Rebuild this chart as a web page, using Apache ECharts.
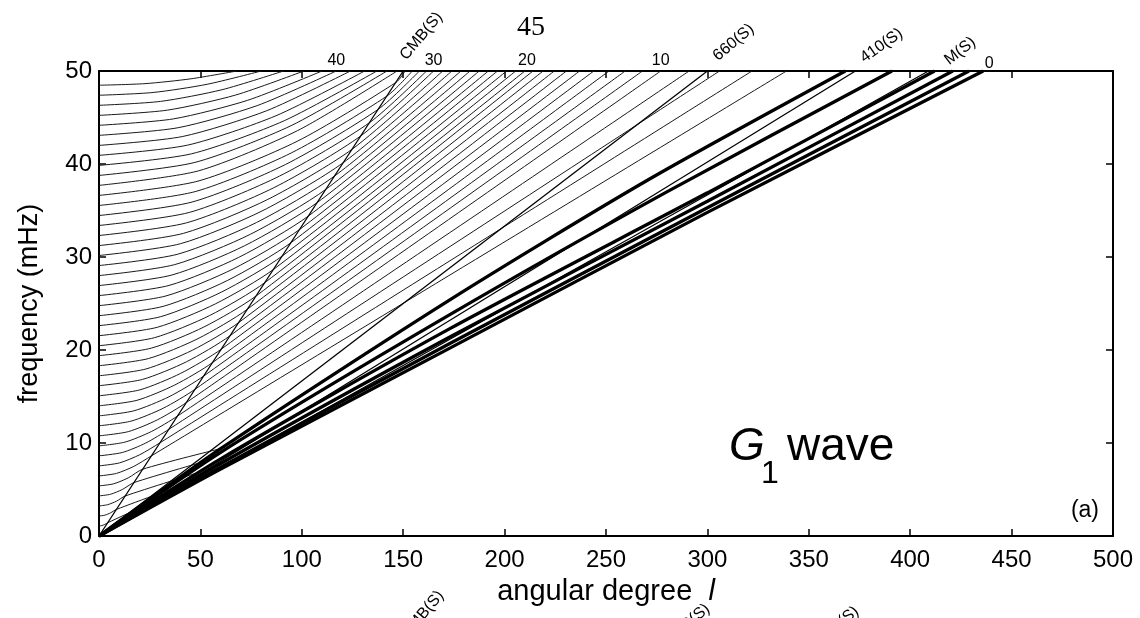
<!DOCTYPE html>
<html><head><meta charset="utf-8">
<script src="https://cdn.jsdelivr.net/npm/echarts@6/dist/echarts.min.js"></script>
<style>html,body{margin:0;padding:0;background:#fff}#c{width:1140px;height:618px}</style>
</head><body><div id="c"></div>
<script>
// Thin overtone branches (n = 1 ... 45): [angular degree l, frequency mHz]
const thinBranches = [
 [[0,1.08],[1.4,1.12],[2.9,1.25],[4.3,1.43],[40,5.0]],
 [[0,2.15],[2.9,2.24],[5.7,2.49],[8.6,2.86],[45,5.8]],
 [[0,3.23],[4.3,3.37],[8.6,3.74],[12.9,4.30],[50,6.9]],
 [[0,4.31],[5.7,4.49],[11.5,5.00],[17.2,5.74],[55,8.2]],
 [[0,5.39],[7.2,5.61],[14.4,6.25],[21.5,7.18],[60,9.4]],
 [[0,6.46],[8.6,6.73],[17.2,7.49],[25.8,8.61],[339,50]],
 [[0,7.54],[10.1,7.86],[20.1,8.74],[30.2,10.04],[322,50]],
 [[0,8.62],[11.5,8.98],[23.0,9.99],[34.5,11.48],[306,50]],
 [[0,9.69],[12.9,10.10],[25.8,11.23],[38.8,12.91],[291,50]],
 [[0,10.77],[14.4,11.22],[28.7,12.48],[43.1,14.35],[277,50]],
 [[0,11.85],[15.8,12.35],[31.6,13.73],[47.4,15.78],[268,50]],
 [[0,12.92],[17.2,13.46],[34.5,14.97],[51.7,17.21],[259.5,50]],
 [[0,14.00],[18.7,14.59],[37.3,16.23],[56.0,18.65],[251.5,50]],
 [[0,15.08],[20.1,15.71],[40.2,17.48],[60.3,20.09],[244,50]],
 [[0,16.16],[21.5,16.84],[43.1,18.73],[64.6,21.53],[237,50]],
 [[0,17.23],[23.0,17.95],[46.0,19.97],[68.9,22.95],[230.5,50]],
 [[0,18.31],[24.4,19.08],[48.8,21.22],[73.2,24.39],[224.5,50]],
 [[0,19.39],[25.8,20.20],[51.7,22.47],[77.6,25.83],[219,50]],
 [[0,20.46],[27.3,21.32],[54.6,23.71],[81.8,27.25],[214,50]],
 [[0,21.54],[28.7,22.44],[57.4,24.96],[86.2,28.69],[210,50]],
 [[0,22.62],[30.2,23.57],[60.3,26.22],[90.5,30.13],[205.5,50]],
 [[0,23.69],[31.6,24.69],[63.2,27.46],[94.8,31.56],[201,50]],
 [[0,24.77],[33.0,25.81],[66.1,28.71],[99.1,32.99],[196.5,50]],
 [[0,25.85],[34.5,26.94],[68.9,29.96],[103.4,34.43],[192,50]],
 [[0,26.93],[35.9,28.06],[71.8,31.21],[107.7,35.87],[187.5,50]],
 [[0,28.00],[37.3,29.18],[74.7,32.45],[112.0,37.30],[183,50]],
 [[0,29.08],[38.8,30.30],[77.6,33.70],[116.3,38.73],[178.5,50]],
 [[0,30.16],[40.2,31.43],[80.4,34.95],[120.6,40.17],[174,50]],
 [[0,31.23],[41.6,32.54],[83.3,36.20],[124.9,41.60],[169.5,50]],
 [[0,32.31],[43.1,33.67],[86.2,37.45],[129.2,43.04],[165,50]],
 [[0,33.39],[44.5,34.79],[89.0,38.70],[133.6,44.48],[161.5,50]],
 [[0,34.46],[45.9,35.91],[91.9,39.94],[137.8,45.90],[158,50]],
 [[0,35.54],[47.4,37.03],[94.8,41.19],[142.2,47.34],[154.5,50]],
 [[0,36.62],[48.8,38.16],[97.7,42.44],[146.5,48.78],[151,50]],
 [[0,37.70],[49,39.26],[98,43.60],[147,50]],
 [[0,38.77],[47.3,40.17],[94.7,44.12],[142,50]],
 [[0,39.85],[45.7,41.10],[91.3,44.65],[137,50]],
 [[0,40.93],[43.7,42.03],[87.3,45.19],[131,50]],
 [[0,42.00],[41.3,42.96],[82.7,45.73],[124,50]],
 [[0,43.08],[39,43.90],[78,46.28],[117,50]],
 [[0,44.16],[36.7,44.85],[73.3,46.85],[110,50]],
 [[0,45.23],[33.7,45.79],[67.3,47.41],[101,50]],
 [[0,46.31],[30.3,46.73],[60.7,47.99],[91,50]],
 [[0,47.39],[26.7,47.69],[53.3,48.57],[80,50]],
 [[0,48.47],[22.7,48.64],[45.3,49.16],[68,50]]
];
// Thick low-order branches (n = 0 ... 5)
const thickBranches = [
 [[0,0],[60,7.2],[173,20.2],[300,34.8],[436,50]],
 [[0,0],[60,7.4],[173,20.7],[300,35.3],[429,50]],
 [[0,0],[60,7.8],[173,21.4],[300,36.0],[421,50]],
 [[0,0],[60,8.3],[173,22.3],[300,36.9],[412,50]],
 [[0,0],[60,9.0],[173,23.8],[280,37.0],[391,50]],
 [[0,0],[60,9.4],[173,25.4],[270,38.2],[368,50]]
];
// Ray-theory lines through the origin
const rayNames = ['CMB(S)','660(S)','410(S)','M(S)'];
const rayEndL = [150,300,373,409];
const rayTopF = 50;
// Overtone-number labels along the top
const overtoneLabels = ['40','30','20','10','0'];
const overtoneLabelL = [117,165,211,277,439];
const xMin = 0, xMax = 500, xStep = 50;
const yMin = 0, yMax = 50, yStep = 10;

const chart = echarts.init(document.getElementById('c'), null, {renderer:'canvas'});
const FONT = 'Liberation Sans, Arial, Helvetica, sans-serif';
const series = [];
thinBranches.forEach(d => series.push({type:'line', data:d, showSymbol:false, symbol:'none', smooth:0.25, silent:true, clip:true, lineStyle:{color:'#1a1a1a', width:1}, z:2}));
rayEndL.forEach(l => series.push({type:'line', data:[[0,0],[l,rayTopF]], showSymbol:false, symbol:'none', silent:true, clip:true, lineStyle:{color:'#000', width:1.3}, z:3}));
thickBranches.forEach(d => series.push({type:'line', data:d, showSymbol:false, symbol:'none', smooth:0.25, silent:true, clip:true, lineStyle:{color:'#000', width:3.3}, z:4}));

const axisCommon = {axisLine:{show:true, onZero:false, lineStyle:{color:'#000', width:2}}, splitLine:{show:false}, axisTick:{show:true, inside:true, length:7, lineStyle:{color:'#000', width:1.5}}};
chart.setOption({
  animation:false,
  backgroundColor:'#fff',
  grid:{left:99, right:27, top:71, bottom:82, containLabel:false},
  xAxis:[
    Object.assign({type:'value', min:xMin, max:xMax, interval:xStep, position:'bottom',
      axisLabel:{color:'#000', fontSize:24, fontFamily:FONT, margin:12},
      name:'{a|angular degree  }{b|l}', nameLocation:'middle', nameGap:41,
      nameTextStyle:{rich:{a:{fontSize:29, fontFamily:FONT, color:'#000'}, b:{fontSize:29, fontFamily:FONT, fontStyle:'italic', color:'#000'}}}}, axisCommon),
    Object.assign({type:'value', min:xMin, max:xMax, interval:xStep, position:'top', axisLabel:{show:false}}, axisCommon)
  ],
  yAxis:[
    Object.assign({type:'value', min:yMin, max:yMax, interval:yStep, position:'left',
      axisLabel:{color:'#000', fontSize:24, fontFamily:FONT, margin:7},
      name:'frequency (mHz)', nameLocation:'middle', nameGap:56, nameRotate:90,
      nameTextStyle:{fontSize:27, fontFamily:FONT, color:'#000'}}, axisCommon),
    Object.assign({type:'value', min:yMin, max:yMax, interval:yStep, position:'right', axisLabel:{show:false}}, axisCommon)
  ],
  series: series
});

// Text annotations anchored to data coordinates
const g = [];
const px = (l,f) => chart.convertToPixel({gridIndex:0}, [l,f]);
const rayLabelOff = [[6,-8,50],[13,-7,40],[11,-5,35],[23,-3,38]];
rayNames.forEach((t,i) => {
  const p = px(rayEndL[i], rayTopF);
  g.push({type:'text', x:p[0]+rayLabelOff[i][0], y:p[1]+rayLabelOff[i][1], rotation:rayLabelOff[i][2]*Math.PI/180,
    style:{text:t, font:'16px '+FONT, fill:'#000', textAlign:'left', textVerticalAlign:'bottom'}});
});
overtoneLabels.forEach((t,i) => {
  const p = px(overtoneLabelL[i], rayTopF);
  g.push({type:'text', x:p[0], y:p[1]-(t==='0'?-1:2), style:{text:t, font:'16px '+FONT, fill:'#000', textAlign:'center', textVerticalAlign:'bottom'}});
});
g.push({type:'text', x:729, y:447, style:{text:'G', font:'italic 46px '+FONT, fill:'#000', textAlign:'left', textVerticalAlign:'middle'}});
g.push({type:'text', x:761, y:474, style:{text:'1', font:'32px '+FONT, fill:'#000', textAlign:'left', textVerticalAlign:'middle'}});
g.push({type:'text', x:787, y:447, style:{text:'wave', font:'46px '+FONT, fill:'#000', textAlign:'left', textVerticalAlign:'middle'}});
g.push({type:'text', x:1099, y:511, style:{text:'(a)', font:'23px '+FONT, fill:'#000', textAlign:'right', textVerticalAlign:'middle'}});
g.push({type:'text', x:531, y:28, style:{text:'45', font:'28px "Liberation Serif", "Times New Roman", serif', fill:'#000', textAlign:'center', textVerticalAlign:'middle'}});
g.push({type:'text', x:447, y:598, rotation:50*Math.PI/180, style:{text:'CMB(S)', font:'16px '+FONT, fill:'#000', textAlign:'right', textVerticalAlign:'bottom'}});
g.push({type:'text', x:713, y:613, rotation:40*Math.PI/180, style:{text:'660(S)', font:'16px '+FONT, fill:'#000', textAlign:'right', textVerticalAlign:'bottom'}});
g.push({type:'text', x:862, y:616, rotation:38*Math.PI/180, style:{text:'410(S)', font:'16px '+FONT, fill:'#000', textAlign:'right', textVerticalAlign:'bottom'}});
chart.setOption({graphic:g});
</script></body></html>
